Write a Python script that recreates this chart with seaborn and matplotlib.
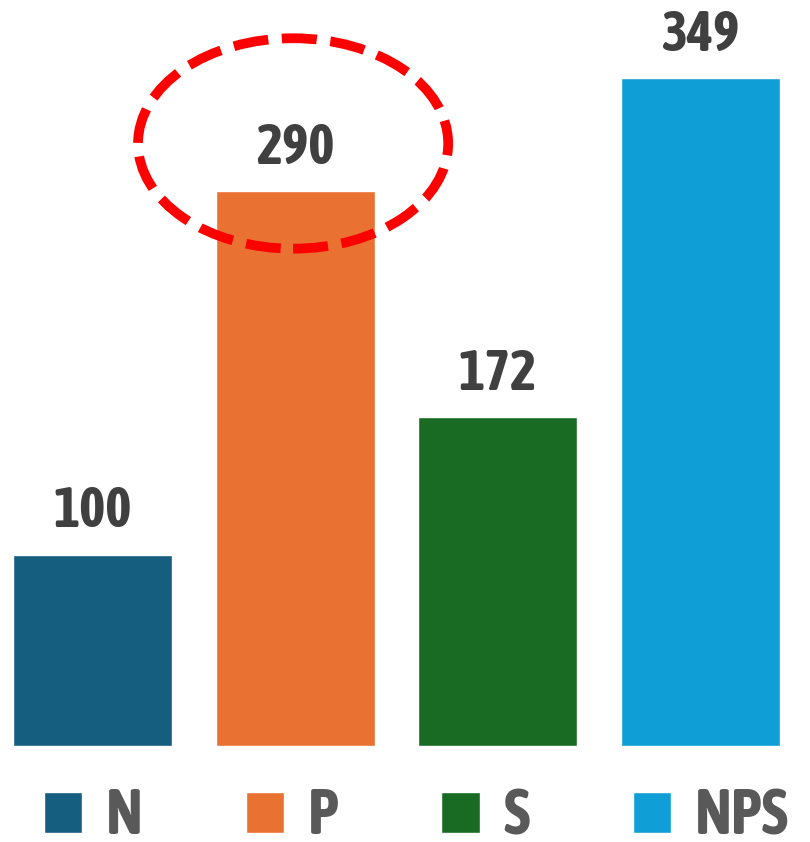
import matplotlib
matplotlib.use("Agg")
import matplotlib.pyplot as plt
from matplotlib import font_manager
from matplotlib.patches import Ellipse, Patch
import seaborn as sns

# data
categories = ["N", "P", "S", "NPS"]
values = [100, 290, 172, 349]
colors = ["#165E80", "#E97132", "#196B24", "#0F9ED5"]
highlight = "P"


def is_bold(f):
    w = f.weight
    return (w >= 600) if isinstance(w, int) else w in ("bold", "heavy", "black", "semibold", "demibold")


# a narrow upright face that also comes in bold, like the original Office font
narrow = sorted({f.name for f in font_manager.fontManager.ttflist
                 if ("Narrow" in f.name or "Condensed" in f.name
                     or f.stretch in ("condensed", "semi-condensed"))
                 and is_bold(f) and f.style == "normal"})

sns.set_theme(style="white")
plt.rcParams["font.family"] = narrow[:1] + ["DejaVu Sans"]

fig = plt.figure(figsize=(8.1, 8.42), dpi=100)
ax = fig.add_axes([0, 0.114, 1, 0.886])

sns.barplot(x=categories, y=values, hue=categories, palette=colors,
            width=0.785, legend=False, ax=ax, saturation=1)

for i, v in enumerate(values):
    ax.text(i, v + 8, str(v), ha="center", va="bottom", fontsize=40,
            fontweight="bold", fontstyle="normal", fontstretch="condensed",
            color="#404040")

# red dashed ring around the highlighted label
hi = categories.index(highlight)
ax.add_patch(Ellipse((hi - 0.01, values[hi] + 25), 1.53, 110, fill=False,
                     edgecolor="#FF0000", lw=7, linestyle=(0, (3.6, 1.4)),
                     clip_on=False))

ax.set_xlim(-0.456, 3.54)
ax.set_ylim(0, 390)
ax.axis("off")

handles = [Patch(facecolor=c, label=l) for c, l in zip(colors, categories)]
fig.legend(handles=handles, loc="lower left", bbox_to_anchor=(0.023, -0.036),
           ncol=4, frameon=False, labelcolor="#595959",
           prop={"weight": "bold", "size": 45, "style": "normal",
                 "stretch": "condensed"},
           handlelength=0.62, handleheight=0.62, handletextpad=0.37,
           columnspacing=1.65, borderaxespad=0)

fig.savefig("out.png", dpi=100)
